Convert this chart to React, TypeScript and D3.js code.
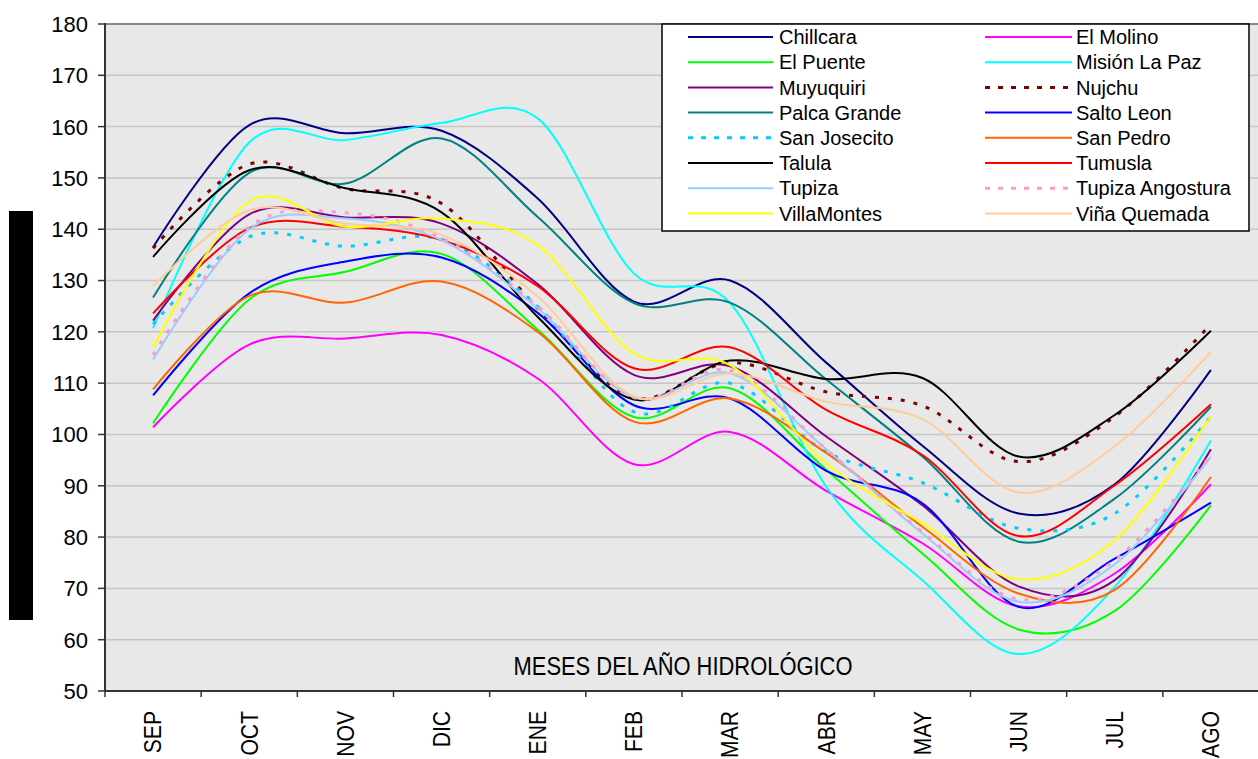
import React from "react";
import * as d3 from "d3";

const months = ["SEP", "OCT", "NOV", "DIC", "ENE", "FEB", "MAR", "ABR", "MAY", "JUN", "JUL", "AGO"];
const yTicks = [50, 60, 70, 80, 90, 100, 110, 120, 130, 140, 150, 160, 170, 180];

const chillcara = [136.5, 160.3, 158.7, 159.2, 146.0, 125.9, 130.0, 114.0, 97.8, 84.6, 90.3, 112.6];
const elMolino = [101.4, 117.5, 118.7, 119.4, 110.9, 94.2, 100.5, 89.0, 78.8, 66.5, 72.9, 90.3];
const elPuente = [102.2, 126.3, 131.7, 135.2, 120.4, 103.4, 109.0, 93.1, 76.8, 62.0, 65.6, 86.2];
const misionLaPaz = [120.7, 156.9, 157.4, 160.7, 161.6, 131.4, 125.6, 89.8, 71.6, 57.2, 70.3, 98.8];
const muyuquiri = [122.2, 142.9, 142.3, 141.1, 129.3, 111.6, 113.3, 99.6, 86.2, 70.4, 71.6, 97.1];
const nujchu = [136.3, 152.7, 147.9, 145.0, 124.6, 107.2, 114.0, 108.3, 105.6, 94.7, 103.5, 121.5];
const palcaGrande = [126.7, 151.0, 148.9, 157.7, 142.4, 125.6, 125.7, 110.7, 95.7, 79.1, 87.5, 105.4];
const saltoLeon = [107.6, 127.5, 133.7, 134.5, 123.7, 105.7, 107.0, 92.9, 86.6, 66.4, 75.8, 86.7];
const sanJosecito = [121.5, 138.5, 136.7, 138.0, 124.9, 104.4, 110.0, 96.6, 90.6, 81.7, 84.6, 103.5];
const sanPedro = [108.8, 127.0, 125.7, 129.8, 120.0, 102.5, 107.0, 96.4, 82.0, 69.0, 69.7, 91.7];
const talula = [134.6, 151.5, 148.0, 143.3, 122.9, 106.8, 114.4, 110.8, 111.0, 95.7, 103.8, 120.2];
const tumusla = [123.6, 140.2, 140.5, 137.9, 128.9, 112.9, 117.0, 104.8, 96.0, 80.2, 90.1, 105.9];
const tupiza = [114.6, 140.0, 142.1, 137.9, 124.6, 107.2, 111.9, 97.1, 80.7, 67.4, 74.7, 95.7];
const tupizaAngostura = [115.5, 140.5, 143.2, 138.3, 125.0, 107.2, 112.5, 97.1, 81.0, 67.9, 75.5, 96.0];
const villaMontes = [116.9, 145.4, 140.5, 142.1, 136.9, 115.8, 113.5, 94.4, 82.7, 71.8, 79.4, 103.6];
const vinaQuemada = [128.9, 143.7, 141.1, 138.9, 126.9, 107.4, 111.9, 106.4, 103.0, 88.7, 97.7, 116.1];

const seriesNames = [
  "Chillcara", "El Molino", "El Puente", "Misión La Paz", "Muyuquiri", "Nujchu",
  "Palca Grande", "Salto Leon", "San Josecito", "San Pedro", "Talula", "Tumusla",
  "Tupiza", "Tupiza Angostura", "VillaMontes", "Viña Quemada",
];
const seriesValues = [
  chillcara, elMolino, elPuente, misionLaPaz, muyuquiri, nujchu,
  palcaGrande, saltoLeon, sanJosecito, sanPedro, talula, tumusla,
  tupiza, tupizaAngostura, villaMontes, vinaQuemada,
];
const seriesColors = [
  "#000080", "#FF00FF", "#00FF00", "#00FFFF", "#800080", "#800000",
  "#008080", "#0000FF", "#00CCFF", "#FF6600", "#000000", "#FF0000",
  "#99CCFF", "#FF99CC", "#FFFF00", "#FFCC99",
];
const seriesDashed = [
  false, false, false, false, false, true,
  false, false, true, false, false, false,
  false, true, false, false,
];

const W = 1258;
const H = 759;
const PL = 105;
const PR = 1259;
const PT = 24;
const PB = 691;
const FONT = "'Liberation Sans', Arial, sans-serif";

export default function App() {
  const x = d3.scaleBand<string>().domain(months).range([PL, PR]);
  const y = d3.scaleLinear().domain([50, 180]).range([PB, PT]);
  const cx = (m: string) => (x(m) as number) + x.bandwidth() / 2;
  const line = d3
    .line<number>()
    .x((_, i) => cx(months[i]))
    .y((v) => y(v))
    .curve(d3.curveCardinal.tension(0));

  const legendRowY = (r: number) => 37 + r * 25.2;

  return (
    <svg
      width={W}
      height={H}
      style={{ position: "absolute", left: 0, top: 0, background: "#fff" }}
      fontFamily={FONT}
    >
      <rect x={PL} y={PT} width={PR - PL} height={PB - PT} fill="#e8e8e8" />
      {yTicks.map((t) => (
        <line key={"g" + t} x1={PL} x2={PR} y1={y(t)} y2={y(t)} stroke="#c6c6c6" strokeWidth={1.5} />
      ))}
      <line x1={PL} x2={PR} y1={PT} y2={PT} stroke="#888" strokeWidth={2} />
      {yTicks.map((t) => (
        <g key={"yt" + t}>
          <line x1={98} x2={PL} y1={y(t)} y2={y(t)} stroke="#333" strokeWidth={1.5} />
          <text x={88} y={y(t)} dy="0.36em" textAnchor="end" fontSize={22} fill="#000">
            {t}
          </text>
        </g>
      ))}
      {months.map((m, i) => (
        <line
          key={"xt" + m}
          x1={PL + i * x.bandwidth()}
          x2={PL + i * x.bandwidth()}
          y1={PB}
          y2={PB + 6}
          stroke="#333"
          strokeWidth={1.5}
        />
      ))}
      {months.map((m) => (
        <text
          key={"xl" + m}
          transform={`translate(${cx(m)},711) rotate(-90) scale(0.88,1)`}
          textAnchor="end"
          dy="0.35em"
          fontSize={24}
          fill="#000"
        >
          {m}
        </text>
      ))}
      <text x={683} y={675} textAnchor="middle" fontSize={25} textLength={339} lengthAdjust="spacingAndGlyphs" fill="#000">
        MESES DEL AÑO HIDROLÓGICO
      </text>
      {seriesValues.map((vals, i) => (
        <path
          key={"s" + i}
          d={line(vals) || ""}
          fill="none"
          stroke={seriesColors[i]}
          strokeWidth={seriesDashed[i] ? 3 : 2}
          strokeDasharray={seriesDashed[i] ? "4,9" : undefined}
          strokeLinejoin="round"
        />
      ))}
      <line x1={PL} x2={PL} y1={PT - 1} y2={PB} stroke="#333" strokeWidth={2} />
      <line x1={PL} x2={PR} y1={PB} y2={PB} stroke="#333" strokeWidth={2} />
      <rect x={662} y={24} width={587} height={207} fill="#fff" stroke="#000" strokeWidth={1.5} />
      {seriesNames.map((name, i) => {
        const row = Math.floor(i / 2);
        const col = i % 2;
        const lx1 = col === 0 ? 688 : 985;
        const lx2 = col === 0 ? 773 : 1072;
        const tx = col === 0 ? 779 : 1076;
        const yy = legendRowY(row);
        return (
          <g key={"lg" + i}>
            <line
              x1={lx1}
              x2={lx2}
              y1={yy}
              y2={yy}
              stroke={seriesColors[i]}
              strokeWidth={seriesDashed[i] ? 3 : 2}
              strokeDasharray={seriesDashed[i] ? "5,8" : undefined}
            />
            <text x={tx} y={yy} dy="0.36em" fontSize={20} fill="#000">
              {name}
            </text>
          </g>
        );
      })}
      <rect x={9} y={211} width={24} height={409} fill="#000" />
    </svg>
  );
}
